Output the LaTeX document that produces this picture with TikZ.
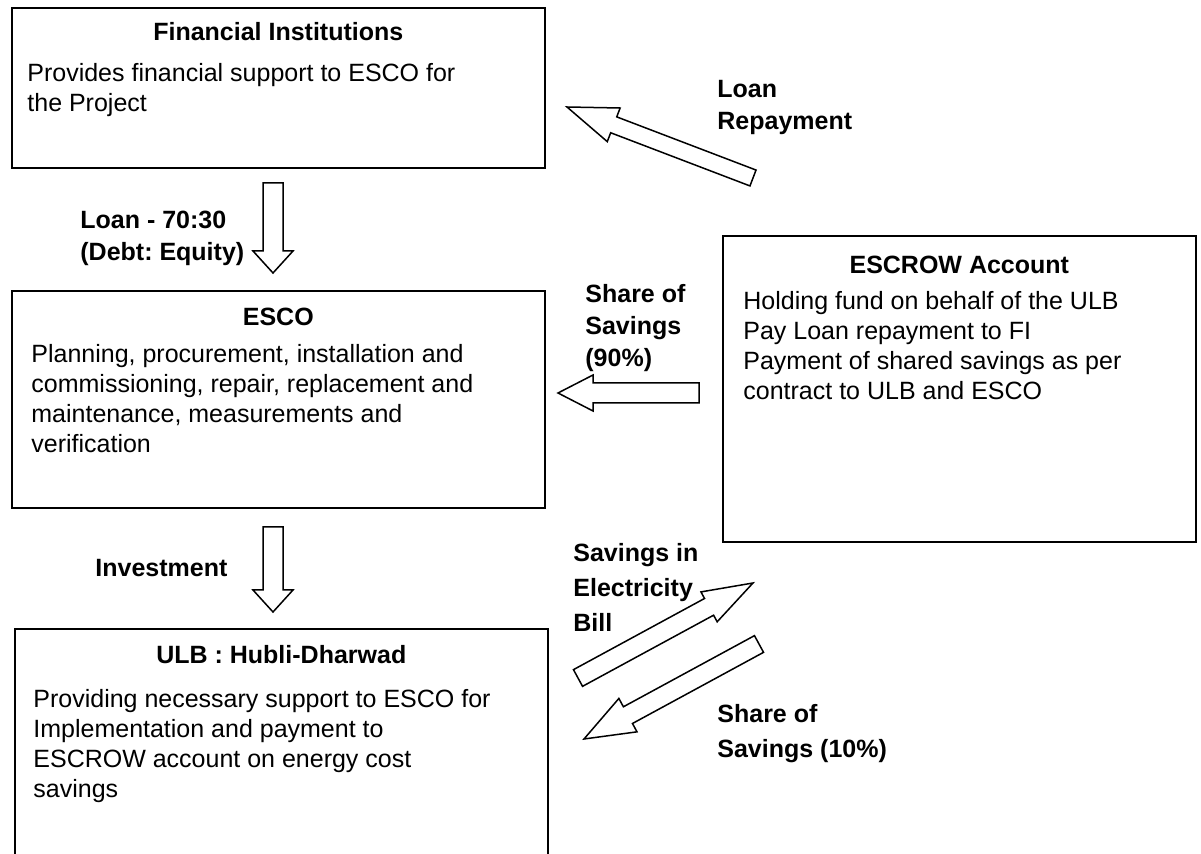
\documentclass[tikz,border=0pt]{standalone}
\usepackage{fontspec}
\setmainfont{Liberation Sans}
\usetikzlibrary{calc}
\frenchspacing

% block arrow from #1 (tail) to #2 (tip): shaft half width, head half width, head length
\newcommand{\blockarrow}[5]{%
  \coordinate (#2_base) at ($(#2)!#5!(#1)$);
  \draw[flow] ($(#1)!#3!90:(#2)$) -- ($(#2_base)!#3!-90:(#1)$) -- ($(#2_base)!#4!-90:(#1)$)
     -- (#2) -- ($(#2_base)!#4!90:(#1)$) -- ($(#2_base)!#3!90:(#1)$)
     -- ($(#1)!#3!-90:(#2)$) -- cycle;
}

\begin{document}
\begin{tikzpicture}[x=0.5pt, y=-0.5pt]
\tikzset{
   every node/.style = {font=\fontsize{12.5}{15}\selectfont},
   box/.style = {rectangle, draw, line width=0.8pt, anchor=north west, inner sep=0pt},
   heading/.style = {anchor=base, font=\fontsize{12.5}{15}\selectfont\bfseries},
   body/.style = {anchor=north west, align=left, inner sep=0pt},
   flowtext/.style = {anchor=north west, align=left, inner sep=0pt, font=\fontsize{12.5}{16}\selectfont\bfseries},
   flow/.style = {draw, line width=0.75pt, line join=miter}
}
\useasboundingbox (0,0) rectangle (1201,854);

  % boxes
  \node[box, minimum width=266.5pt, minimum height=80pt] (fi) at (11,7) {};
  \node[heading] (fi_title) at ($(fi.north)+(0,34)$) {Financial Institutions};
  \node[body] (fi_text) at ($(fi.north west)+(16,56)$) {Provides financial support to ESCO for\\the Project};

  \node[box, minimum width=266.5pt, minimum height=108.5pt] (esco) at (11,290) {};
  \node[heading] (esco_title) at ($(esco.north)+(0,36)$) {ESCO};
  \node[body] (esco_text) at ($(esco.north west)+(20,54)$) {Planning, procurement, installation and\\commissioning, repair, replacement and\\maintenance, measurements and\\verification};

  \node[box, minimum width=236.5pt, minimum height=153pt] (escrow) at (722,235) {};
  \node[heading] (escrow_title) at ($(escrow.north)+(0,39)$) {ESCROW Account};
  \node[body] (escrow_text) at ($(escrow.north west)+(21,56)$) {Holding fund on behalf of the ULB\\Pay Loan repayment to FI\\Payment of shared savings as per\\contract to ULB and ESCO};

  \node[box, minimum width=266.5pt, minimum height=130pt] (ulb) at (14,628) {};
  \node[heading] (ulb_title) at ($(ulb.north)+(0,36)$) {ULB : Hubli-Dharwad};
  \node[body] (ulb_text) at ($(ulb.north west)+(19,61)$) {Providing necessary support to ESCO for\\Implementation and payment to\\ESCROW account on energy cost\\savings};

  % flows
  \coordinate (loan_tail) at (273,183);
  \coordinate (loan_tip) at (273,273);
  \blockarrow{loan_tail}{loan_tip}{5pt}{10pt}{11pt}

  \coordinate (invest_tail) at (273,527);
  \coordinate (invest_tip) at (273,612);
  \blockarrow{invest_tail}{invest_tip}{5pt}{10pt}{11pt}

  \coordinate (repay_tail) at (753,178);
  \coordinate (repay_tip) at (567,107);
  \blockarrow{repay_tail}{repay_tip}{4.25pt}{9pt}{25pt}

  \coordinate (share90_tail) at (699,393);
  \coordinate (share90_tip) at (558,393);
  \blockarrow{share90_tail}{share90_tip}{5pt}{9pt}{17.5pt}

  \coordinate (bill_tail) at (578,678);
  \coordinate (bill_tip) at (753,583);
  \blockarrow{bill_tail}{bill_tip}{4.75pt}{8.5pt}{25pt}

  \coordinate (share10_tail) at (759,644);
  \coordinate (share10_tip) at (584,739);
  \blockarrow{share10_tail}{share10_tip}{4.75pt}{9.5pt}{25pt}

  % flow labels
  \node[flowtext] (loan_text) at (80,211) {Loan - 70:30\\(Debt: Equity)};
  \node[flowtext] (repay_text) at (717,80) {Loan\\Repayment};
  \node[flowtext] (share90_text) at (585,284) {Share of\\Savings\\(90\%)};
  \node[flowtext] (invest_text) at (95,559) {Investment};
  \node[flowtext, font=\fontsize{12.5}{17.5}\selectfont\bfseries] (bill_text) at (573,543) {Savings in\\Electricity\\Bill};
  \node[flowtext, font=\fontsize{12.5}{17.5}\selectfont\bfseries] (share10_text) at (717,704) {Share of\\Savings (10\%)};

\end{tikzpicture}
\end{document}
